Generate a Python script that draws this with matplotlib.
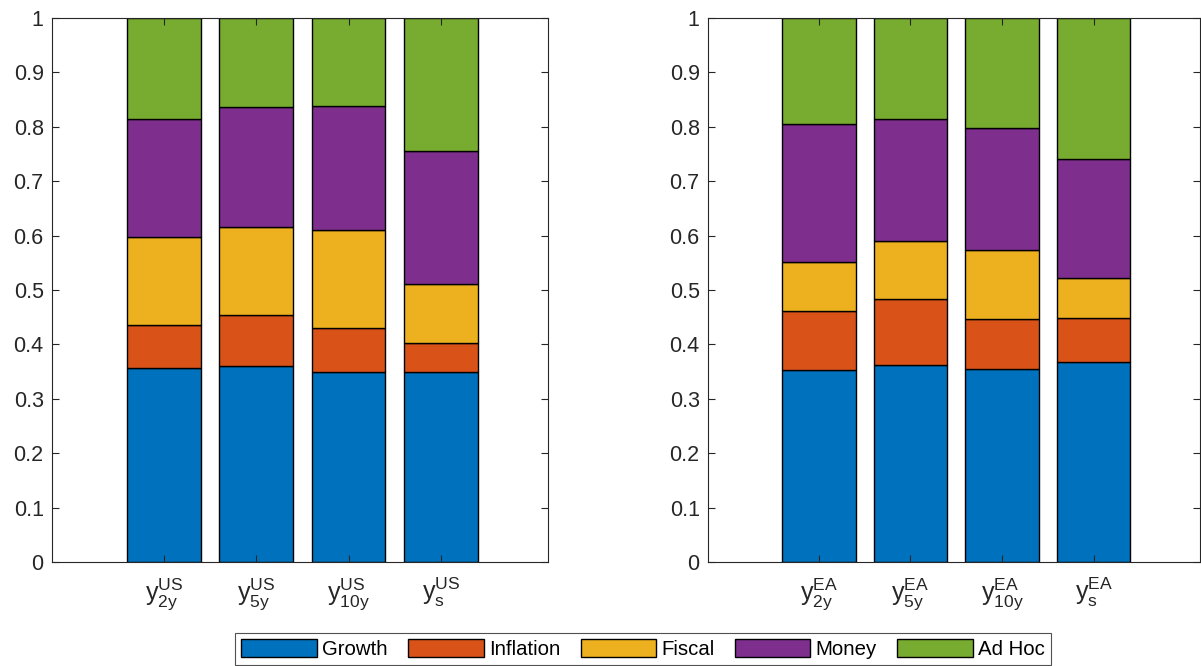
import matplotlib.pyplot as plt
import numpy as np

plt.rcParams['font.family'] = ['Liberation Sans', 'DejaVu Sans']
plt.rcParams['mathtext.fontset'] = 'custom'
plt.rcParams['mathtext.rm'] = 'Liberation Sans'
plt.rcParams['mathtext.it'] = 'Liberation Sans'
plt.rcParams['mathtext.default'] = 'regular'

# shares of each shock in the decomposition
series = ['Growth', 'Inflation', 'Fiscal', 'Money', 'Ad Hoc']
colors = ['#0072BD', '#D95319', '#EDB120', '#7E2F8E', '#77AC30']

us_labels = [r'$y_{2y}^{US}$', r'$y_{5y}^{US}$', r'$y_{10y}^{US}$', r'$y_{s}^{US}$']
ea_labels = [r'$y_{2y}^{EA}$', r'$y_{5y}^{EA}$', r'$y_{10y}^{EA}$', r'$y_{s}^{EA}$']

us_growth = [0.356, 0.361, 0.350, 0.350]
us_inflation = [0.079, 0.093, 0.080, 0.053]
us_fiscal = [0.162, 0.161, 0.180, 0.108]
us_money = [0.218, 0.222, 0.229, 0.245]
us_adhoc = [0.185, 0.163, 0.161, 0.244]

ea_growth = [0.352, 0.362, 0.355, 0.367]
ea_inflation = [0.109, 0.122, 0.092, 0.081]
ea_fiscal = [0.090, 0.106, 0.127, 0.074]
ea_money = [0.254, 0.225, 0.224, 0.219]
ea_adhoc = [0.195, 0.185, 0.202, 0.259]

us_data = [us_growth, us_inflation, us_fiscal, us_money, us_adhoc]
ea_data = [ea_growth, ea_inflation, ea_fiscal, ea_money, ea_adhoc]

fig = plt.figure(figsize=(12.01, 6.66), dpi=100)
ax1 = fig.add_axes([0.0433, 0.1562, 0.4130, 0.8168])
ax2 = fig.add_axes([0.5895, 0.1562, 0.4097, 0.8168])

edge = '#262626'


def stacked(ax, data, labels):
    x = np.arange(1, len(labels) + 1)
    bottom = np.zeros(len(labels))
    handles = []
    for vals, name, c in zip(data, series, colors):
        h = ax.bar(x, vals, width=0.8, bottom=bottom, color=c,
                   edgecolor='black', linewidth=1.0, label=name)
        bottom += np.array(vals)
        handles.append(h)
    ax.set_xlim(-0.21, 5.16)
    ax.set_ylim(0, 1)
    ax.set_xticks(x)
    ax.set_xticklabels(labels)
    ax.set_yticks(np.arange(0, 1.01, 0.1))
    ax.set_yticklabels(['0', '0.1', '0.2', '0.3', '0.4', '0.5', '0.6',
                        '0.7', '0.8', '0.9', '1'])
    ax.tick_params(axis='both', direction='in', top=True, right=True,
                   length=5, width=0.8, color=edge, labelcolor=edge,
                   labelsize=15.5)
    ax.tick_params(axis='x', pad=10, labelsize=18)
    ax.tick_params(axis='y', pad=6)
    for s in ax.spines.values():
        s.set_color(edge)
        s.set_linewidth(0.8)
    return handles


handles = stacked(ax1, us_data, us_labels)
stacked(ax2, ea_data, ea_labels)

leg = fig.legend(handles, series, loc='lower center', ncol=5,
                 bbox_to_anchor=(0.5354, -0.003), fontsize=14.7,
                 frameon=True, fancybox=False, edgecolor=edge,
                 handlelength=3.7, handleheight=1.0, handletextpad=0.25,
                 columnspacing=1.0, borderpad=0.3, borderaxespad=0.15)
leg.get_frame().set_linewidth(0.8)

fig.savefig('out.png', dpi=100)
